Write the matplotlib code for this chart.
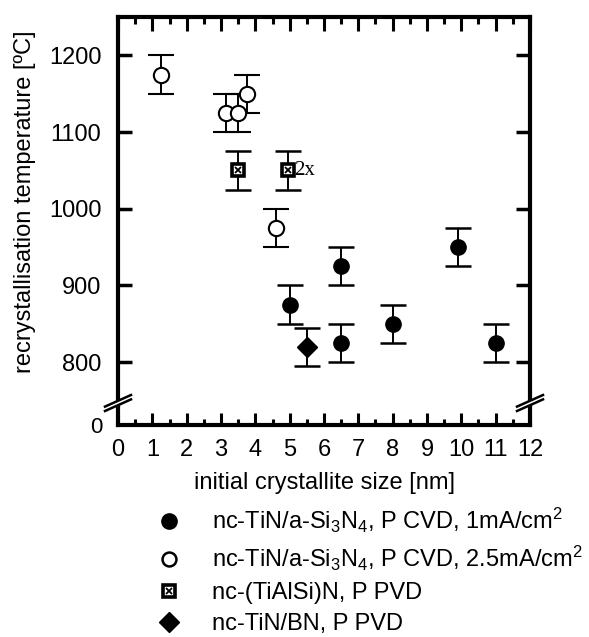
import matplotlib
matplotlib.use('Agg')
import matplotlib.pyplot as plt
import matplotlib.transforms as mtransforms
from matplotlib.lines import Line2D

# nc-TiN/a-Si3N4, P CVD, 1 mA/cm2 (filled circles)
cvd1_x = [5.0, 6.5, 6.5, 8.0, 9.9, 11.0]
cvd1_y = [875, 925, 825, 850, 950, 825]
# nc-TiN/a-Si3N4, P CVD, 2.5 mA/cm2 (open circles)
cvd25_x = [1.25, 3.15, 3.5, 3.75, 4.6]
cvd25_y = [1175, 1125, 1125, 1150, 975]
# nc-(TiAlSi)N, P PVD (crossed squares)
tialsi_x = [3.5, 4.95]
tialsi_y = [1050, 1050]
# nc-TiN/BN, P PVD (diamond)
tibn_x = [5.5]
tibn_y = [820]
yerr = 25

labels = [
    'nc-TiN/a-Si$_3$N$_4$, P CVD, 1mA/cm$^2$',
    'nc-TiN/a-Si$_3$N$_4$, P CVD, 2.5mA/cm$^2$',
    'nc-(TiAlSi)N, P PVD',
    'nc-TiN/BN, P PVD',
]

plt.rcParams['font.family'] = ['Liberation Sans', 'DejaVu Sans']
plt.rcParams['mathtext.default'] = 'regular'
plt.rcParams['font.size'] = 17

W, H = 589, 637
fig = plt.figure(figsize=(W / 100, H / 100), dpi=100)

L, R = 118 / W, 530 / W
ax = fig.add_axes([L, 1 - 405 / H, R - L, (405 - 17) / H])
axb = fig.add_axes([L, 1 - 425 / H, R - L, 20 / H])

eb = dict(ls='none', ecolor='black', elinewidth=1.4, capsize=9.7, capthick=1.8)
ax.errorbar(cvd1_x, cvd1_y, yerr=yerr, marker='o', ms=11, mfc='black',
            mec='black', **eb)
ax.errorbar(cvd25_x, cvd25_y, yerr=yerr, marker='o', ms=11, mfc='white',
            mec='black', mew=1.5, **eb)
ax.errorbar(tialsi_x, tialsi_y, yerr=yerr, marker='none', **eb)
ax.plot(tialsi_x, tialsi_y, ls='none', marker='s', ms=8, mfc='white',
        mec='black', mew=2.6)
ax.plot(tialsi_x, tialsi_y, ls='none', marker='x', ms=4.5, mec='black', mew=1.3)
ax.errorbar(tibn_x, tibn_y, yerr=yerr, marker='D', ms=10, mfc='black',
            mec='black', **eb)
ax.text(tialsi_x[1] + 0.18, tialsi_y[1], '2x', family='Liberation Serif',
        fontsize=15, va='center', ha='left')

ax.set_xlim(0, 12)
ax.set_ylim(744, 1250)
axb.set_xlim(0, 12)
axb.set_ylim(0, 1)

ax.set_yticks([800, 900, 1000, 1100, 1200])
ax.set_xticks(range(13))
ax.set_xticks([i + 0.5 for i in range(12)], minor=True)
ax.tick_params(axis='y', which='major', direction='in', length=10, width=2.5,
               left=True, right=True, labelsize=17, pad=12)
ax.tick_params(axis='x', which='major', direction='in', length=10, width=2.2,
               top=True, bottom=False, labelbottom=False)
ax.tick_params(axis='x', which='minor', direction='in', length=5, width=2.2,
               top=True, bottom=False)
ax.tick_params(axis='y', which='minor', left=False, right=False)

axb.set_yticks([0])
axb.tick_params(axis='y', length=0, labelsize=16, pad=11)
axb.set_xticks(range(13))
axb.set_xticks([i + 0.5 for i in range(12)], minor=True)
axb.tick_params(axis='x', which='major', direction='in', length=8.5, width=2.2,
                labelsize=17, pad=10)
axb.tick_params(axis='x', which='minor', direction='in', length=4.5, width=2.2)
axb.set_xlabel('initial crystallite size [nm]', fontsize=17, labelpad=8)

for a in (ax, axb):
    for s in a.spines.values():
        s.set_linewidth(3)
ax.spines['bottom'].set_visible(False)
axb.spines['top'].set_visible(False)
axb.patch.set_alpha(0)

fig.text(25 / W, 1 - 202 / H, 'recrystallisation temperature [ºC]',
         rotation=90, ha='center', va='center', fontsize=17)

# axis break marks
for x0 in (0, 1):
    trans = fig.dpi_scale_trans + mtransforms.ScaledTranslation(
        x0, 1, axb.transAxes)
    dx, dy, off = 0.13, 0.058, 0.022
    ax_pts = [-dx, dx]
    fig.add_artist(Line2D(ax_pts, [0.02 - dy, 0.02 + dy], transform=trans,
                          color='white', lw=4, solid_capstyle='butt'))
    for o in (-off, off):
        fig.add_artist(Line2D(ax_pts, [0.02 - dy + o, 0.02 + dy + o],
                              transform=trans, color='black', lw=1.8))

handles = [
    Line2D([], [], ls='none', marker='o', ms=11, mfc='black', mec='black'),
    Line2D([], [], ls='none', marker='o', ms=10, mfc='white', mec='black',
           mew=1.8),
    (Line2D([], [], ls='none', marker='s', ms=8, mfc='white', mec='black',
            mew=2.6),
     Line2D([], [], ls='none', marker='x', ms=4.5, mec='black', mew=1.3)),
    Line2D([], [], ls='none', marker='D', ms=10, mfc='black', mec='black'),
]
fig.legend(handles, labels, loc='upper left',
           bbox_to_anchor=(158 / W, 1 - 506 / H), frameon=False,
           borderpad=0, borderaxespad=0, handlelength=0.9,
           handletextpad=1.4, labelspacing=0.38, fontsize=17)

fig.savefig('out.png', dpi=100)
